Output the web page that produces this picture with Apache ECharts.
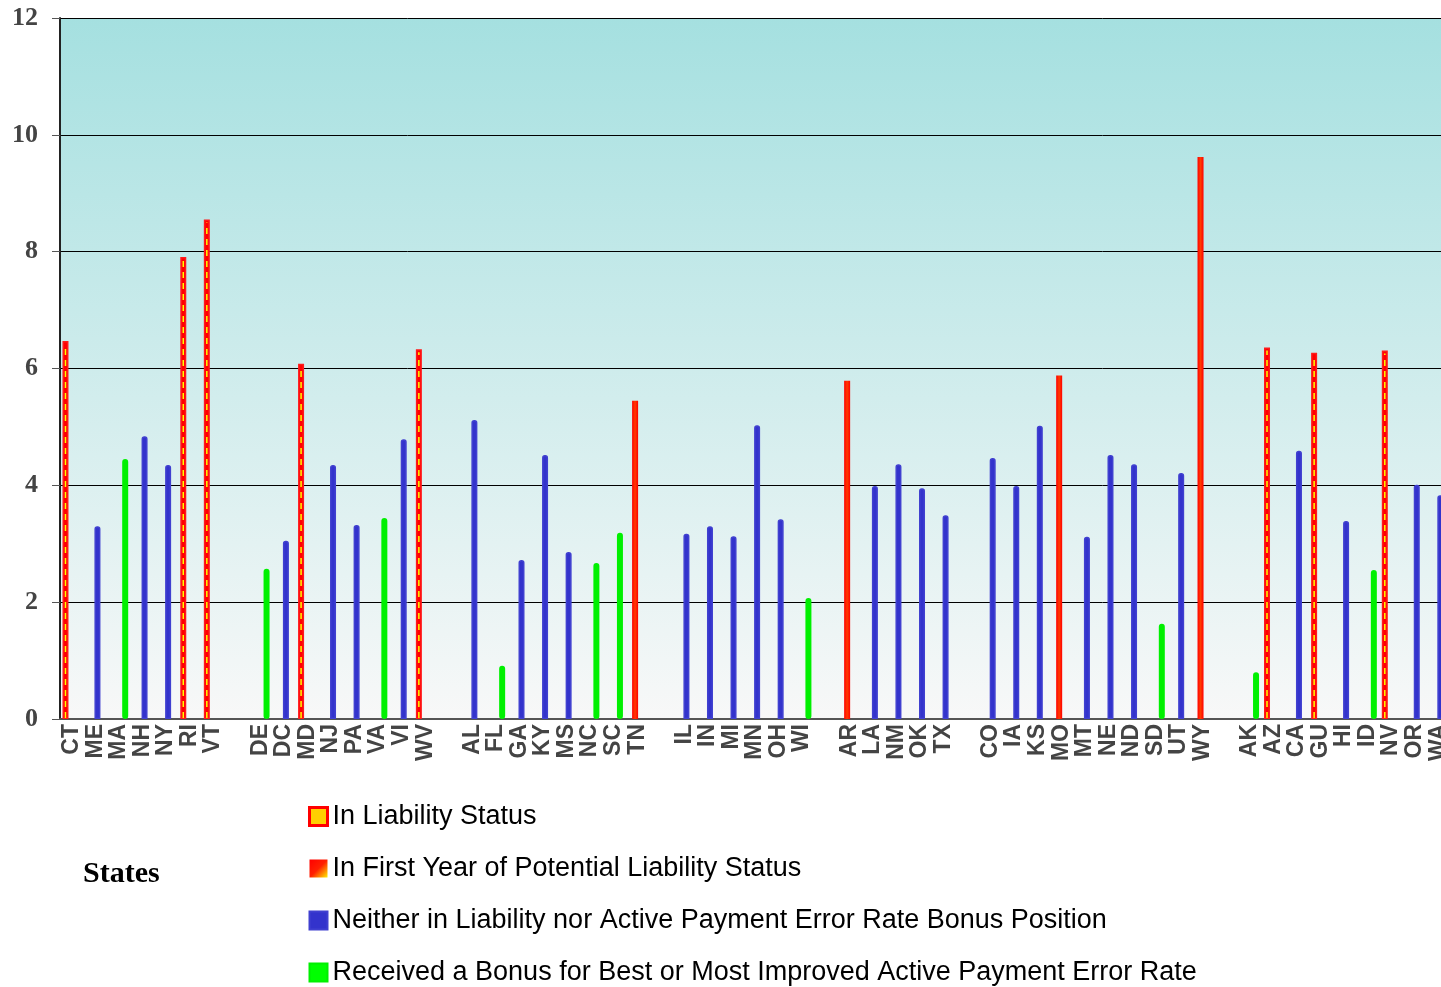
<!DOCTYPE html>
<html>
<head>
<meta charset="utf-8">
<title>Payment error rates by state</title>
<script src="https://cdn.jsdelivr.net/npm/echarts@6/dist/echarts.min.js"></script>
<style>
  html, body { margin: 0; padding: 0; background: #fff; overflow: hidden; }
  /* plot runs a few pixels past the right edge of the window, as in the original */
  #chart { width: 1460px; height: 987px; }
</style>
</head>
<body>
<div id="chart"></div>
<script>
// states in regional order, '' = empty slot between regions
var states = ['CT','ME','MA','NH','NY','RI','VT','',
  'DE','DC','MD','NJ','PA','VA','VI','WV','',
  'AL','FL','GA','KY','MS','NC','SC','TN','',
  'IL','IN','MI','MN','OH','WI','',
  'AR','LA','NM','OK','TX','',
  'CO','IA','KS','MO','MT','NE','ND','SD','UT','WY','',
  'AK','AZ','CA','GU','HI','ID','NV','OR','WA'];

var rates = [6.47,3.30,4.45,4.84,4.35,7.91,8.55,null,
  2.57,3.05,6.08,4.35,3.32,3.44,4.79,6.33,null,
  5.12,0.91,2.72,4.52,2.86,2.67,3.19,5.45,null,
  3.17,3.30,3.13,5.03,3.42,2.07,null,
  5.79,3.99,4.36,3.95,3.49,null,
  4.47,3.99,5.02,5.88,3.12,4.52,4.36,1.63,4.21,9.62,null,
  0.80,6.36,4.59,6.27,3.39,2.55,6.31,4.01,3.83];

// L = in liability, F = first year potential liability, N = neither, B = bonus
var groupCodes = ['L','N','B','N','N','L','L','',
  'B','N','L','N','N','B','N','L','',
  'N','B','N','N','N','B','B','F','',
  'N','N','N','N','N','B','',
  'F','N','N','N','N','',
  'N','N','N','F','N','N','N','B','N','F','',
  'B','L','N','L','N','B','L','N','N'];

var yTicks = [0, 12, 2];

var groupNames = {
  L: 'In Liability Status',
  F: 'In First Year of Potential Liability Status',
  N: 'Neither in Liability nor Active Payment Error Rate Bonus Position',
  B: 'Received a Bonus for Best or Most Improved Active Payment Error Rate'
};

function valuesFor(code) {
  return rates.map(function (v, i) { return groupCodes[i] === code ? v : '-'; });
}

var BAR_W = 6;
var BAR_GAP = -0.3;

var chart = echarts.init(document.getElementById('chart'));

var redGlow = new echarts.graphic.LinearGradient(0, 0, 1, 0, [
  { offset: 0, color: '#ff0000' },
  { offset: 0.5, color: '#ff3a00' },
  { offset: 1, color: '#ff0000' }
]);

var dashData = [];
rates.forEach(function (v, i) { if (groupCodes[i] === 'L') dashData.push([i, v]); });

var option = {
  animation: false,
  title: {
    text: 'States',
    left: 78,
    top: 854,
    textStyle: { fontFamily: 'Liberation Serif', fontWeight: 'bold', fontSize: 30, color: '#000' }
  },
  legend: {
    orient: 'vertical',
    left: 308,
    top: 803,
    height: 200,
    padding: 0,
    itemWidth: 18,
    itemHeight: 18,
    itemGap: 25,
    selectedMode: false,
    icon: 'rect',
    textStyle: { fontFamily: 'Liberation Sans', fontSize: 27, lineHeight: 26, color: '#000' },
    data: [
      { name: groupNames.L, itemStyle: { color: '#ffd000', borderColor: '#ff0000', borderWidth: 3 } },
      { name: groupNames.F, itemStyle: { color: new echarts.graphic.LinearGradient(0, 0, 1, 1, [
        { offset: 0, color: '#ff0000' }, { offset: 0.5, color: '#ff2000' }, { offset: 1, color: '#ffee00' }]) } },
      { name: groupNames.N, itemStyle: { color: '#3333cc' } },
      { name: groupNames.B, itemStyle: { color: '#00ff00' } }
    ]
  },
  grid: {
    left: 60,
    top: 18,
    width: 1390,
    height: 701,
    show: true,
    borderWidth: 0,
    backgroundColor: new echarts.graphic.LinearGradient(0, 0, 0, 1, [
      { offset: 0, color: '#a5e0e0' },
      { offset: 1, color: '#f8f8f8' }
    ])
  },
  xAxis: {
    type: 'category',
    data: states,
    axisLine: { lineStyle: { color: '#555', width: 2 } },
    axisTick: { show: false },
    axisLabel: {
      interval: 0,
      rotate: 90,
      margin: 5,
      fontFamily: 'Liberation Sans',
      fontWeight: 'bold',
      fontSize: 23,
      color: '#444'
    },
    splitLine: { show: false }
  },
  yAxis: {
    type: 'value',
    min: yTicks[0],
    max: yTicks[1],
    interval: yTicks[2],
    axisLine: { show: true, lineStyle: { color: '#222', width: 2 } },
    axisTick: { show: true, length: 8, lineStyle: { color: '#555' } },
    axisLabel: {
      margin: 22,
      fontFamily: 'Liberation Serif',
      fontWeight: 'bold',
      fontSize: 26,
      color: '#444'
    },
    splitLine: { lineStyle: { color: '#000', width: 1 } }
  },
  series: [
    {
      name: groupNames.L, type: 'bar', data: valuesFor('L'),
      barWidth: BAR_W, barGap: (BAR_GAP * 100) + '%',
      itemStyle: { color: '#ff0000', borderColor: '#ff1a1a', borderWidth: 1.5 }
    },
    {
      name: groupNames.F, type: 'bar', data: valuesFor('F'),
      barWidth: BAR_W, barGap: (BAR_GAP * 100) + '%',
      itemStyle: { color: redGlow }
    },
    {
      name: groupNames.N, type: 'bar', data: valuesFor('N'),
      barWidth: BAR_W, barGap: (BAR_GAP * 100) + '%',
      itemStyle: { color: '#3333cc', borderColor: '#4040d0', borderWidth: 1.5, borderRadius: [2, 2, 0, 0] }
    },
    {
      name: groupNames.B, type: 'bar', data: valuesFor('B'),
      barWidth: BAR_W, barGap: (BAR_GAP * 100) + '%',
      itemStyle: { color: '#00ff00', borderColor: '#00f000', borderWidth: 3, borderRadius: [3, 3, 3, 3] }
    },
    {
      // yellow dashes running up the middle of the liability bars
      name: 'dashes', type: 'custom', data: dashData, z: 5,
      encode: { x: 0, y: 1 },
      renderItem: function (params, api) {
        var base = api.coord([api.value(0), 0]);
        var top = api.coord([api.value(0), api.value(1)]);
        // centre of the first bar in the 4-bar group
        var sum = 4 * BAR_W * (1 + BAR_GAP) - BAR_W * BAR_GAP;
        var x = base[0] - sum / 2 + BAR_W / 2;
        return {
          type: 'line',
          shape: { x1: x, y1: base[1] - 1, x2: x, y2: top[1] + 3 },
          style: { stroke: '#ffff00', lineWidth: 1.5, lineDash: [6, 5] }
        };
      }
    }
  ]
};

chart.setOption(option);
</script>
</body>
</html>
